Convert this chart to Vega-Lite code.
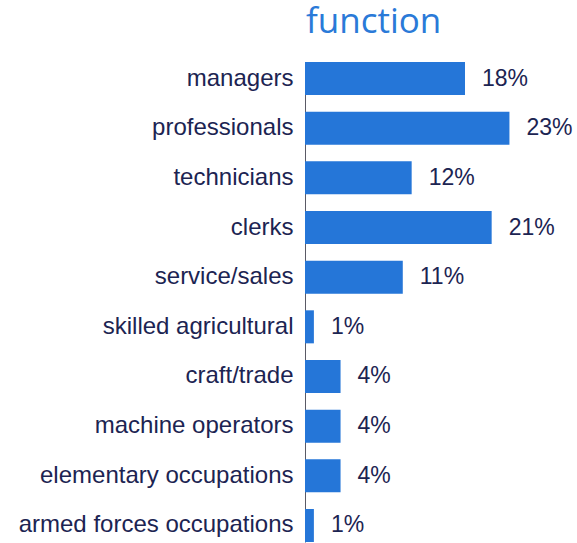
{
  "$schema": "https://vega.github.io/schema/vega-lite/v6.json",
  "autosize": {"type": "none"},
  "padding": {"left": 305, "top": 62, "right": 32, "bottom": 1},
  "width": 240,
  "height": 480,
  "background": "white",
  "title": {
    "text": "function",
    "anchor": "start",
    "frame": "group",
    "font": "Open Sans",
    "fontSize": 35,
    "fontWeight": "normal",
    "color": "#2a7ad8",
    "offset": 22,
    "dx": 1
  },
  "data": {
    "values": [
      {"occupation": "managers", "share": 18, "label": "18%"},
      {"occupation": "professionals", "share": 23, "label": "23%"},
      {"occupation": "technicians", "share": 12, "label": "12%"},
      {"occupation": "clerks", "share": 21, "label": "21%"},
      {"occupation": "service/sales", "share": 11, "label": "11%"},
      {"occupation": "skilled agricultural", "share": 1, "label": "1%"},
      {"occupation": "craft/trade", "share": 4, "label": "4%"},
      {"occupation": "machine operators", "share": 4, "label": "4%"},
      {"occupation": "elementary occupations", "share": 4, "label": "4%"},
      {"occupation": "armed forces occupations", "share": 1, "label": "1%"}
    ]
  },
  "encoding": {
    "y": {
      "field": "occupation",
      "type": "nominal",
      "sort": null,
      "scale": {"paddingInner": 0.335, "paddingOuter": 0},
      "axis": {
        "title": null,
        "ticks": false,
        "domainColor": "#5a5a66",
        "domainWidth": 1,
        "labelFont": "Liberation Sans",
        "labelFontSize": 24,
        "labelColor": "#1c2452",
        "labelPadding": 12,
        "labelLimit": 400
      }
    },
    "x": {
      "field": "share",
      "type": "quantitative",
      "scale": {"domain": [0, 27]},
      "axis": null
    }
  },
  "layer": [
    {"mark": {"type": "bar", "color": "#2576d8", "x": 1}},
    {
      "mark": {
        "type": "text",
        "align": "left",
        "baseline": "middle",
        "dx": 17,
        "font": "Liberation Sans",
        "fontSize": 23,
        "color": "#1c2452"
      },
      "encoding": {"text": {"field": "label", "type": "nominal"}}
    }
  ],
  "config": {"view": {"stroke": null}}
}
